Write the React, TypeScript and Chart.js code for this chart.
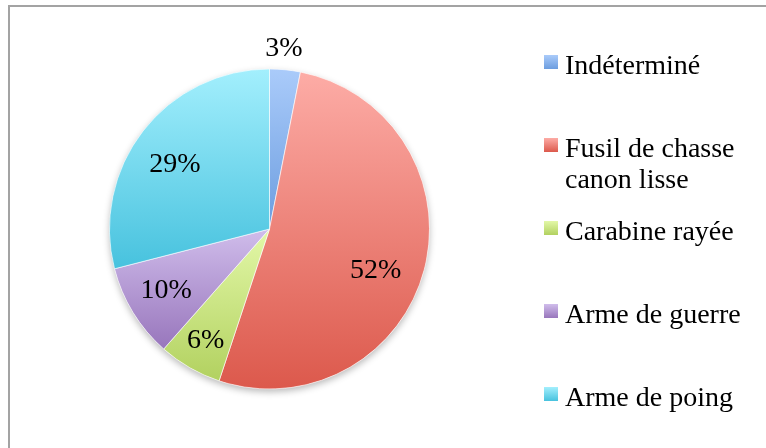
import React, { useEffect, useRef } from 'react';
import { Chart, registerables } from 'chart.js';

Chart.register(...registerables);

const categories = ['Indéterminé', 'Fusil de chasse canon lisse', 'Carabine rayée', 'Arme de guerre', 'Arme de poing'];
const values = [3.1, 52, 6.4, 9.5, 29];
const topColors = ['#aacbfa', '#fdaca6', '#e3f8a8', '#d0bdeb', '#a3effd'];
const bottomColors = ['#6c9ddf', '#dc594c', '#b2d160', '#9876bc', '#47c2de'];
const labelRadius = [1.134, 0.71, 0.8, 0.75, 0.72];
const labelAngleShift = [-1, 6, 0, 1, -3];

const FONT = '"Liberation Serif", "Times New Roman", serif';

function sliceBox(chart: any, i: number) {
  const ca = chart.chartArea;
  const cx = (ca.left + ca.right) / 2;
  const cy = (ca.top + ca.bottom) / 2;
  const r = (Math.min(ca.right - ca.left, ca.bottom - ca.top) - 1) / 2;
  const total = values.reduce((a, b) => a + b, 0);
  let cum = 0;
  for (let k = 0; k < i; k++) cum += values[k];
  const a0 = -Math.PI / 2 + (2 * Math.PI * cum) / total;
  const a1 = a0 + (2 * Math.PI * values[i]) / total;
  const ys = [cy, cy + r * Math.sin(a0), cy + r * Math.sin(a1)];
  for (const c of [-Math.PI / 2, Math.PI / 2, (3 * Math.PI) / 2]) {
    if (c >= a0 && c <= a1) ys.push(cy + r * Math.sin(c));
  }
  return { y0: Math.min(...ys), y1: Math.max(...ys) };
}

const decorPlugin = {
  id: 'decor',
  beforeDatasetsDraw(chart: any) {
    const meta = chart.getDatasetMeta(0);
    const el = meta.data[0];
    if (!el) return;
    const { x, y, outerRadius } = el.getProps(['x', 'y', 'outerRadius'], true);
    const ctx = chart.ctx;
    ctx.save();
    ctx.shadowColor = 'rgba(0,0,0,0.28)';
    ctx.shadowBlur = 7;
    ctx.shadowOffsetY = 3;
    ctx.beginPath();
    ctx.arc(x, y, outerRadius, 0, Math.PI * 2);
    ctx.fillStyle = '#ffffff';
    ctx.fill();
    ctx.restore();
  },
  afterDatasetsDraw(chart: any) {
    const ctx = chart.ctx;
    const meta = chart.getDatasetMeta(0);
    const total = values.reduce((a, b) => a + b, 0);
    ctx.save();
    ctx.font = `28px ${FONT}`;
    ctx.fillStyle = '#000000';
    ctx.textAlign = 'center';
    ctx.textBaseline = 'middle';
    meta.data.forEach((el: any, i: number) => {
      const { x, y, startAngle, endAngle, outerRadius } = el.getProps(
        ['x', 'y', 'startAngle', 'endAngle', 'outerRadius'],
        true
      );
      const mid = (startAngle + endAngle) / 2 + (labelAngleShift[i] * Math.PI) / 180;
      const rr = outerRadius * labelRadius[i];
      const pct = Math.round((values[i] / total) * 100) + '%';
      ctx.fillText(pct, x + rr * Math.cos(mid), y + rr * Math.sin(mid) + 1);
    });
    ctx.restore();

    // legend
    ctx.save();
    ctx.font = `28px ${FONT}`;
    ctx.fillStyle = '#000000';
    ctx.textAlign = 'left';
    ctx.textBaseline = 'alphabetic';
    const textX = 565;
    const markerX = 544;
    const size = 14;
    const maxW = 195;
    categories.forEach((name, i) => {
      const base = 74 + i * 83;
      const g = ctx.createLinearGradient(0, base - 19, 0, base - 19 + size);
      g.addColorStop(0, topColors[i]);
      g.addColorStop(1, bottomColors[i]);
      ctx.fillStyle = g;
      ctx.fillRect(markerX, base - 19, size, size);
      ctx.fillStyle = '#000000';
      const words = name.split(' ');
      const lines: string[] = [];
      let cur = '';
      for (const w of words) {
        const t = cur ? cur + ' ' + w : w;
        if (ctx.measureText(t).width > maxW && cur) {
          lines.push(cur);
          cur = w;
        } else cur = t;
      }
      if (cur) lines.push(cur);
      lines.forEach((ln, j) => ctx.fillText(ln, textX, base + j * 31));
    });
    ctx.restore();
  },
};

export default function App() {
  const ref = useRef<HTMLCanvasElement | null>(null);
  useEffect(() => {
    if (!ref.current) return;
    const chart = new Chart(ref.current, {
      type: 'pie',
      data: {
        labels: categories,
        datasets: [
          {
            data: values,
            backgroundColor: (context: any) => {
              const chart = context.chart;
              const i = context.dataIndex;
              if (!chart.chartArea || i === undefined) return topColors[i ?? 0];
              const { y0, y1 } = sliceBox(chart, i);
              const g = chart.ctx.createLinearGradient(0, y0, 0, y1);
              g.addColorStop(0, topColors[i]);
              g.addColorStop(1, bottomColors[i]);
              return g;
            },
            borderColor: 'rgba(255,255,255,0.6)',
            borderWidth: 1,
          },
        ],
      },
      options: {
        responsive: false,
        animation: false,
        layout: { padding: { left: 109, top: 68, right: 336, bottom: 58 } },
        plugins: {
          legend: { display: false },
          tooltip: { enabled: false },
        },
      },
      plugins: [decorPlugin],
    });
    return () => chart.destroy();
  }, []);
  return (
    <div style={{ position: 'absolute', left: 0, top: 0, width: 766, height: 448, background: '#ffffff' }}>
      <div
        style={{
          position: 'absolute',
          left: 8,
          top: 5,
          right: 0,
          bottom: 0,
          borderLeft: '2px solid #a3a3a3',
          borderTop: '2px solid #a3a3a3',
        }}
      />
      <canvas ref={ref} width={766} height={448} style={{ position: 'absolute', left: 0, top: 0 }} />
    </div>
  );
}
